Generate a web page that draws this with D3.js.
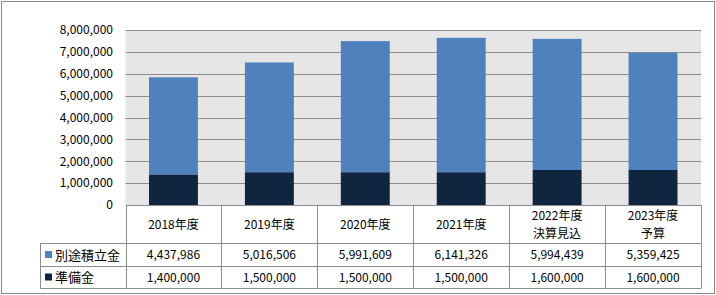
<!DOCTYPE html>
<html>
<head>
<meta charset="utf-8">
<script src="https://cdn.jsdelivr.net/npm/d3@7"></script>
<style>
  body { margin: 0; background: #fff; }
  svg text { font-family: "Noto Sans CJK JP", "Noto Sans", sans-serif; font-size: 12px; fill: #000; }
</style>
</head>
<body>
<div id="container"></div>
<script>
// chart data
var categories = ["2018年度", "2019年度", "2020年度", "2021年度", "2022年度\n決算見込", "2023年度\n予算"];
var reserveFund = [1400000, 1500000, 1500000, 1500000, 1600000, 1600000]; // 準備金
var specialFund = [4437986, 5016506, 5991609, 6141326, 5994439, 5359425]; // 別途積立金
var seriesNames = ["別途積立金", "準備金"];
var yTicks = [0, 1000000, 2000000, 3000000, 4000000, 5000000, 6000000, 7000000, 8000000];

var w = 716;
var h = 295;
var plotLeft = 125.5, plotRight = 701, plotTop = 30, plotBottom = 205;
var row1 = 243, row2 = 266, row3 = 288;
var legLeft = 40.5;
var lineColor = "#8c8c8c";
var colors = { "別途積立金": "#4f81bd", "準備金": "#10253f" };

var svg = d3.select("#container").append("svg").attr("width", w).attr("height", h);

// outer frame
svg.append("rect")
  .attr("x", 1.5).attr("y", 1.5).attr("width", w - 3).attr("height", h - 3)
  .attr("fill", "#fff").attr("stroke", "#888").attr("stroke-width", 1);

var xScale = d3.scaleBand().domain(categories).range([plotLeft, plotRight])
  .paddingInner(0.49).paddingOuter(0.245);
var yScale = d3.scaleLinear().domain([0, 8000000]).range([plotBottom, plotTop]);

// plot background
svg.append("rect")
  .attr("x", plotLeft).attr("y", plotTop).attr("width", plotRight - plotLeft).attr("height", plotBottom - plotTop)
  .attr("fill", "#e6e6e6");

// gridlines
svg.append("g").selectAll("line").data(yTicks.slice(1)).enter().append("line")
  .attr("x1", plotLeft).attr("x2", plotRight)
  .attr("y1", (d) => Math.round(yScale(d)) + 0.5)
  .attr("y2", (d) => Math.round(yScale(d)) + 0.5)
  .attr("stroke", "#8c8c8c").attr("stroke-width", 1);

// y axis labels
var yAxis = d3.axisLeft(yScale).tickValues(yTicks).tickSize(0).tickPadding(0)
  .tickFormat(d3.format(","));
var yg = svg.append("g").attr("transform", "translate(113, 0)").call(yAxis);
yg.select(".domain").remove();
yg.attr("font-family", null).attr("font-size", null);
yg.selectAll("text").attr("fill", "#000");

// stacked bars
var rows = categories.map((c, i) => ({ cat: c, "準備金": reserveFund[i], "別途積立金": specialFund[i] }));
var stack = d3.stack().keys(["準備金", "別途積立金"])(rows);
svg.append("g").selectAll("g").data(stack).enter().append("g")
  .attr("fill", (d) => colors[d.key])
  .selectAll("rect").data((d) => d).enter().append("rect")
  .attr("x", (d) => xScale(d.data.cat))
  .attr("width", xScale.bandwidth())
  .attr("y", (d) => yScale(d[1]))
  .attr("height", (d) => yScale(d[0]) - yScale(d[1]));

// data table
var tbl = svg.append("g").attr("stroke", lineColor).attr("stroke-width", 1).attr("fill", "none");
var step = xScale.step();
// horizontal lines
tbl.append("line").attr("x1", plotLeft).attr("x2", plotRight).attr("y1", plotBottom + 0.5).attr("y2", plotBottom + 0.5);
[row1, row2, row3].forEach((y) => {
  tbl.append("line").attr("x1", legLeft).attr("x2", plotRight).attr("y1", y + 0.5).attr("y2", y + 0.5);
});
// vertical lines
categories.forEach((c, i) => {
  var x = Math.round(plotLeft + i * step) + 0.5;
  tbl.append("line").attr("x1", x).attr("x2", x).attr("y1", plotBottom).attr("y2", row3 + 0.5);
});
tbl.append("line").attr("x1", plotRight + 0.5).attr("x2", plotRight + 0.5).attr("y1", plotBottom).attr("y2", row3 + 0.5);
tbl.append("line").attr("x1", legLeft).attr("x2", legLeft).attr("y1", row1).attr("y2", row3 + 0.5);

// header labels
categories.forEach((c) => {
  var lines = c.split("\n");
  var cx = xScale(c) + xScale.bandwidth() / 2;
  var cy = (plotBottom + row1) / 2;
  var t = svg.append("text").attr("text-anchor", "middle");
  lines.forEach((l, j) => {
    t.append("tspan").attr("x", cx)
      .attr("y", cy + 4.5 + (j - (lines.length - 1) / 2) * 18)
      .text(l);
  });
});

// value rows
var fmt = d3.format(",");
[[specialFund, row1, row2], [reserveFund, row2, row3]].forEach((r) => {
  r[0].forEach((v, i) => {
    svg.append("text").attr("text-anchor", "middle")
      .attr("x", xScale(categories[i]) + xScale.bandwidth() / 2)
      .attr("y", (r[1] + r[2]) / 2 + 4.5)
      .text(fmt(v));
  });
});

// legend in table
seriesNames.forEach((name, i) => {
  var y0 = i === 0 ? row1 : row2;
  var y1 = i === 0 ? row2 : row3;
  var cy = (y0 + y1) / 2;
  svg.append("rect").attr("x", 45).attr("y", cy - 3.5).attr("width", 7).attr("height", 7)
    .attr("fill", colors[name]);
  svg.append("text").attr("x", 55).attr("y", cy + 5).style("font-size", "13px").text(name);
});
</script>
</body>
</html>
